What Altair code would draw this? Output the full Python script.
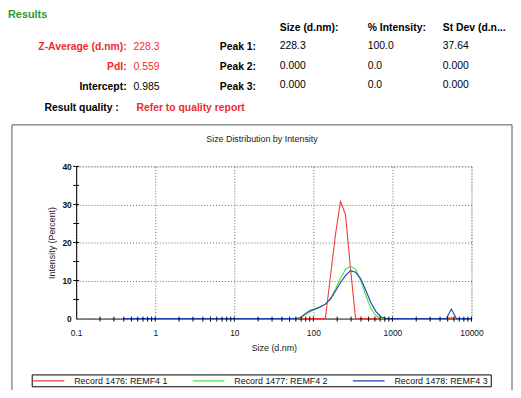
import altair as alt
import pandas as pd

FONT = "Liberation Sans"
RED = "#ee2b2b"
GREEN_T = "#2f9a2f"

# ---------------- data ----------------
sizes = [0.4000, 0.4632, 0.5365, 0.6213, 0.7195, 0.8332, 0.9649, 1.117, 1.294, 1.499,
         1.736, 2.010, 2.328, 2.696, 3.122, 3.615, 4.187, 4.849, 5.615, 6.503,
         7.531, 8.721, 10.10, 11.70, 13.54, 15.69, 18.17, 21.04, 24.36, 28.21,
         32.67, 37.84, 43.82, 50.75, 58.77, 68.06, 78.82, 91.28, 105.7, 122.4,
         141.8, 164.2, 190.1, 220.2, 255.0, 295.3, 342.0, 396.1, 458.7, 531.2,
         615.1, 712.4, 825.0, 955.4, 1106, 1281, 1484, 1718, 1990, 2305,
         2669, 3091, 3580, 4145, 4801, 5560, 6439, 7456, 8635, 10000]

rec1 = [0]*41 + [11.0, 22.0, 30.8, 27.3, 13.0, 0] + [0]*23
rec2 = [0]*35 + [0.1, 1.0, 1.8, 2.4, 3.0, 3.8, 5.3, 7.8, 10.6, 12.9,
                 13.8, 13.0, 10.0, 6.2, 2.7, 0.8, 0] + [0]*13 + [0.4, 0, 0, 0, 0]
rec3 = [0]*35 + [0.2, 1.3, 2.1, 2.6, 3.1, 3.8, 5.1, 7.2, 9.5, 11.3,
                 12.6, 12.2, 10.5, 7.5, 4.3, 1.9, 0.5] + [0]*13 + [2.5, 0, 0, 0, 0]

records = ["Record 1476: REMF4 1", "Record 1477: REMF4 2", "Record 1478: REMF4 3"]
colors = ["#f03c3c", "#48e048", "#1f3fb4"]

x_ticks = [0.1, 1, 10, 100, 1000, 10000]
y_ticks = [0, 10, 20, 30, 40]
x_minor = [m * 10 ** e for e in range(-1, 4) for m in range(2, 10)]
y_minor = [5, 15, 25, 35]

left_labels = ["Z-Average (d.nm):", "PdI:", "Intercept:"]
left_values = ["228.3", "0.559", "0.985"]
left_colors = [RED, RED, "black"]
peak_labels = ["Peak 1:", "Peak 2:", "Peak 3:"]
col_headers = ["Size (d.nm):", "% Intensity:", "St Dev (d.n..."]
col_values = [["228.3", "0.000", "0.000"], ["100.0", "0.0", "0.0"], ["37.64", "0.000", "0.000"]]

rows = []
for rec, vals in zip(records, [rec1, rec2, rec3]):
    for s, v in zip(sizes, vals):
        rows.append({"size": s, "intensity": v, "record": rec})
df = pd.DataFrame(rows)

# page -> view coordinates (view origin at page 77,166)
OX, OY = 77, 166
def vx(x):
    return x - OX
def vy(y):
    return y - OY

one = alt.Data(values=[{"a": 1}])

def txt(s, x, y, color="black", bold=False, align="left", size=10.5):
    return alt.Chart(one).mark_text(
        align=align, baseline="middle", font=FONT, fontSize=size,
        fontWeight="bold" if bold else "normal", color=color
    ).encode(x=alt.value(vx(x)), y=alt.value(vy(y)), text=alt.value(s))

def seg(x1, x2, y1, y2, color="#000", width=1):
    return alt.Chart(one).mark_rule(color=color, strokeWidth=width).encode(
        x=alt.value(vx(x1)), x2=alt.value(vx(x2)), y=alt.value(vy(y1)), y2=alt.value(vy(y2)))

xscale = alt.Scale(type="log", domain=[0.1, 10000], nice=False)
yscale = alt.Scale(domain=[0, 40], nice=False)

xaxis = alt.Axis(values=x_ticks, format="~g", ticks=False, labelPadding=10,
                 grid=True, gridDash=[1, 2], gridColor="#666", gridWidth=1,
                 domainColor="#333", labelFont=FONT, labelFontSize=8.5,
                 labelColor="#111", titleFont=FONT, titleFontSize=9,
                 titleFontWeight="normal", titleColor="#222", titlePadding=7,
                 labelFlush=False, labelOverlap=False)
yaxis = alt.Axis(values=y_ticks, ticks=False, labelPadding=5,
                 grid=True, gridDash=[1, 2], gridColor="#666", gridWidth=1,
                 domainColor="#000", labelFont=FONT, labelFontSize=8.5,
                 labelFontWeight="bold", labelColor="#111", titleFont=FONT,
                 titleFontSize=9, titleFontWeight="normal", titleColor="#222",
                 titlePadding=5, labelFlush=False, labelOverlap=False)

X = alt.X("size:Q", scale=xscale, title="Size (d.nm)", axis=xaxis)
Y = alt.Y("intensity:Q", scale=yscale, title="Intensity (Percent)", axis=yaxis)

lines = alt.Chart(df).mark_line(strokeWidth=1.1, interpolate="linear").encode(
    x=X, y=Y,
    color=alt.Color("record:N", scale=alt.Scale(domain=records, range=colors), legend=None),
)

# tick marks crossing the axes
xt = pd.DataFrame({"size": x_ticks[1:] + x_minor})
yt = pd.DataFrame({"intensity": y_ticks[1:] + y_minor})
xtick_layer = alt.Chart(xt).mark_rule(color="#000", strokeWidth=1).encode(
    x=X, y=alt.value(152), y2=alt.value(157))
ytick_layer = alt.Chart(yt).mark_rule(color="#000", strokeWidth=1).encode(
    y=Y, x=alt.value(-3), x2=alt.value(3))

layers = [lines]

# panel frame
layers.append(alt.Chart(one).mark_rect(fillOpacity=0, stroke="#555", strokeWidth=1).encode(
    x=alt.value(vx(12)), x2=alt.value(vx(518)), y=alt.value(vy(124)), y2=alt.value(vy(397))))

# header text
layers.append(txt("Results", 8, 13, color=GREEN_T, bold=True, size=11))
ly = [45, 65, 86]
for lab, val, col, y in zip(left_labels, left_values, left_colors, ly):
    layers.append(txt(lab, 128, y, color=col, bold=True, align="right"))
    layers.append(txt(val, 135, y, color=col))
layers.append(txt("Result quality :", 45, 107, bold=True))
layers.append(txt("Refer to quality report", 138, 107, color=RED, bold=True))
for lab, y in zip(peak_labels, ly):
    layers.append(txt(lab, 259, y, bold=True, align="right"))
cx = [283, 372, 448]
vy_rows = [44, 64, 84]
for h, x, vals in zip(col_headers, cx, col_values):
    layers.append(txt(h, x, 26, bold=True))
    for v, y in zip(vals, vy_rows):
        layers.append(txt(v, x, y))

layers.append(txt("Size Distribution by Intensity", 265, 138, color="#222", size=9, align="center"))

# legend box
layers.append(alt.Chart(one).mark_rect(fillOpacity=0, stroke="#000", strokeWidth=1).encode(
    x=alt.value(vx(32.5)), x2=alt.value(vx(497)), y=alt.value(vy(377)), y2=alt.value(vy(389))))
leg_x = [33, 195, 357]
for rec, col, lx in zip(records, colors, leg_x):
    layers.append(seg(lx, lx + 32, 383, 383, color=col, width=1.1))
    layers.append(txt(rec, lx + 42, 383, color="#111", size=9))

layers += [xtick_layer, ytick_layer]

chart = alt.layer(*layers).properties(
    width=400, height=154,
    padding={"left": 69, "top": 158, "right": 42, "bottom": 70},
    autosize=alt.AutoSizeParams(type="none"),
).configure_view(stroke=None).configure(background="white")

chart.save("out.html", embed_options={"renderer": "svg", "actions": False})
